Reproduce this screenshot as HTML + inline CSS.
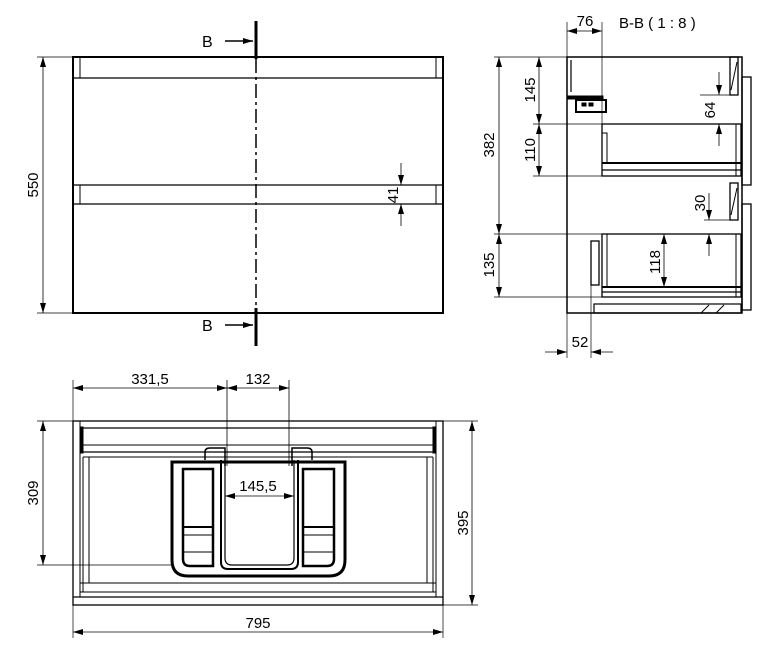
<!DOCTYPE html>
<html><head><meta charset="utf-8"><style>
html,body{margin:0;padding:0;background:#fff}
svg{display:block}
text{font-family:"Liberation Sans",sans-serif;font-size:15px;fill:#000}
</style></head><body>
<svg width="782" height="652" viewBox="0 0 782 652" xmlns="http://www.w3.org/2000/svg">
<defs>
<marker id="a" viewBox="0 0 10 6" refX="10" refY="3" markerWidth="10" markerHeight="6" orient="auto-start-reverse" markerUnits="userSpaceOnUse"><path d="M0,0 L10,3 L0,6 z" fill="#000"/></marker>
</defs>
<g stroke="#000" fill="none">
<rect x="73" y="57" width="370" height="256" stroke-width="2"/>
<line x1="73" y1="78" x2="443" y2="78" stroke-width="1.2"/>
<line x1="80" y1="57" x2="80" y2="78"/><line x1="436" y1="57" x2="436" y2="78"/>
<line x1="73" y1="185" x2="443" y2="185" stroke-width="1.2"/>
<line x1="73" y1="204" x2="443" y2="204" stroke-width="1.2"/>
<line x1="80" y1="185" x2="80" y2="204"/><line x1="436" y1="185" x2="436" y2="204"/>
<line x1="256" y1="21" x2="256" y2="59" stroke-width="3"/>
<line x1="256" y1="308" x2="256" y2="346" stroke-width="3"/>
<line x1="256" y1="59" x2="256" y2="308" stroke-width="1.5" stroke-dasharray="14,4,3,4"/>
<line x1="225" y1="41" x2="253" y2="41" stroke-width="1.5" marker-end="url(#a)"/>
<line x1="225" y1="325" x2="253" y2="325" stroke-width="1.5" marker-end="url(#a)"/>
<line x1="37" y1="57" x2="73" y2="57" stroke-width="0.7"/><line x1="37" y1="313" x2="73" y2="313" stroke-width="0.7"/>
<line x1="43" y1="57" x2="43" y2="313" stroke-width="0.8" marker-start="url(#a)" marker-end="url(#a)"/>
<line x1="401" y1="163" x2="401" y2="185" stroke-width="0.8" marker-end="url(#a)"/>
<line x1="401" y1="226" x2="401" y2="204" stroke-width="0.8" marker-end="url(#a)"/>

<rect x="567" y="57" width="175" height="256" stroke-width="1.5"/>
<rect x="742" y="77" width="9" height="108" stroke-width="1.3"/>
<rect x="742" y="204" width="9" height="106" stroke-width="1.3"/>
<rect x="730" y="57" width="8" height="38" stroke-width="1.3"/>
<line x1="731" y1="90" x2="737" y2="62"/>
<rect x="730" y="183" width="8" height="37" stroke-width="1.3"/>
<line x1="731" y1="215" x2="737" y2="188"/>
<rect x="602" y="124" width="139" height="52" stroke-width="1.3"/>
<line x1="602" y1="163" x2="741" y2="163" stroke-width="2"/>
<line x1="602" y1="170" x2="741" y2="170" stroke-width="1.2"/>
<rect x="602" y="133" width="5" height="30"/>
<line x1="736" y1="124" x2="736" y2="176"/>
<rect x="602" y="234" width="139" height="63" stroke-width="1.3"/>
<line x1="602" y1="287" x2="741" y2="287" stroke-width="2"/>
<line x1="602" y1="292" x2="741" y2="292" stroke-width="1.2"/>
<line x1="607" y1="234" x2="607" y2="287"/>
<line x1="736" y1="234" x2="736" y2="297"/>
<rect x="591" y="241" width="8" height="44" stroke-width="1.3"/>
<rect x="594" y="304" width="147" height="9" stroke-width="1.2"/>
<line x1="701" y1="313" x2="709" y2="305"/><line x1="716" y1="313" x2="724" y2="305"/>
<line x1="571" y1="60" x2="571" y2="92" stroke-width="1.2"/>
<rect x="568" y="96" width="35" height="3" fill="#000" stroke-width="1"/>
<rect x="576" y="100" width="30" height="12" stroke-width="2"/>
<rect x="582" y="103" width="4" height="3" fill="#000"/><rect x="589" y="103" width="4" height="3" fill="#000"/>
<line x1="567" y1="22" x2="567" y2="57" stroke-width="0.7"/><line x1="602" y1="22" x2="602" y2="124" stroke-width="0.7"/>
<line x1="567" y1="31" x2="602" y2="31" stroke-width="0.8" marker-start="url(#a)" marker-end="url(#a)"/>
<line x1="567" y1="313" x2="567" y2="358" stroke-width="0.7"/><line x1="591" y1="285" x2="591" y2="358" stroke-width="0.7"/>
<line x1="545" y1="352" x2="567" y2="352" stroke-width="0.8" marker-end="url(#a)"/>
<line x1="613" y1="352" x2="591" y2="352" stroke-width="0.8" marker-end="url(#a)"/>
<line x1="494" y1="57" x2="567" y2="57" stroke-width="0.7"/>
<line x1="533" y1="124" x2="602" y2="124" stroke-width="0.7"/>
<line x1="533" y1="176" x2="602" y2="176" stroke-width="0.7"/>
<line x1="494" y1="234" x2="602" y2="234" stroke-width="0.7"/>
<line x1="494" y1="297" x2="602" y2="297" stroke-width="0.7"/>
<line x1="499" y1="57" x2="499" y2="234" stroke-width="0.8" marker-start="url(#a)" marker-end="url(#a)"/>
<line x1="499" y1="234" x2="499" y2="297" stroke-width="0.8" marker-start="url(#a)" marker-end="url(#a)"/>
<line x1="539" y1="57" x2="539" y2="124" stroke-width="0.8" marker-start="url(#a)" marker-end="url(#a)"/>
<line x1="539" y1="124" x2="539" y2="176" stroke-width="0.8" marker-start="url(#a)" marker-end="url(#a)"/>
<line x1="700" y1="95" x2="730" y2="95" stroke-width="0.7"/>
<line x1="719" y1="72" x2="719" y2="95" stroke-width="0.8" marker-end="url(#a)"/>
<line x1="719" y1="146" x2="719" y2="124" stroke-width="0.8" marker-end="url(#a)"/>
<line x1="704" y1="220" x2="730" y2="220" stroke-width="0.7"/>
<line x1="709" y1="193" x2="709" y2="220" stroke-width="0.8" marker-end="url(#a)"/>
<line x1="709" y1="256" x2="709" y2="234" stroke-width="0.8" marker-end="url(#a)"/>
<line x1="664" y1="234" x2="664" y2="287" stroke-width="0.8" marker-start="url(#a)" marker-end="url(#a)"/>

<rect x="73" y="421" width="370" height="184" stroke-width="1.3"/>
<line x1="73" y1="597" x2="443" y2="597" stroke-width="1.2"/>
<line x1="80" y1="428" x2="436" y2="428" stroke-width="1.2"/>
<line x1="80" y1="445" x2="436" y2="445"/>
<line x1="80" y1="452" x2="436" y2="452" stroke-width="1.2"/>
<line x1="83" y1="457" x2="433" y2="457"/>
<line x1="80" y1="583" x2="436" y2="583"/>
<line x1="80" y1="592" x2="436" y2="592"/>
<line x1="80" y1="421" x2="80" y2="597"/><line x1="436" y1="421" x2="436" y2="597"/>
<line x1="83" y1="457" x2="83" y2="592"/><line x1="433" y1="457" x2="433" y2="592"/>
<line x1="89" y1="457" x2="89" y2="583"/><line x1="427" y1="457" x2="427" y2="583"/>
<rect x="80" y="427" width="3" height="26" fill="#000"/><rect x="433" y="427" width="3" height="26" fill="#000"/>
<path d="M172,462 H345 V560 Q345,576 329,576 H188 Q172,576 172,560 Z" stroke-width="3"/>
<path d="M183,469 H213 V566 H190 Q183,566 183,559 Z" stroke-width="2.5"/>
<path d="M303,469 H334 V559 Q334,566 327,566 H303 Z" stroke-width="2.5"/>
<path d="M221,460 V562 Q221,569 228,569 H291 Q298,569 298,562 V460" stroke-width="2"/>
<path d="M225,460 V558 Q225,565 232,565 H287 Q294,565 294,558 V460" stroke-width="1.2"/>
<line x1="183" y1="527" x2="213" y2="527" stroke-width="2"/><line x1="183" y1="535" x2="213" y2="535"/>
<line x1="183" y1="552" x2="213" y2="552"/>
<line x1="303" y1="527" x2="334" y2="527" stroke-width="2"/><line x1="303" y1="535" x2="334" y2="535"/>
<line x1="303" y1="552" x2="334" y2="552"/>
<path d="M205,460 V452 Q205,448 210,448 H225 V466" stroke-width="1.5"/>
<path d="M312,460 V452 Q312,448 307,448 H292 V466" stroke-width="1.5"/>
<line x1="73" y1="380" x2="73" y2="421" stroke-width="0.7"/>
<line x1="227" y1="380" x2="227" y2="466" stroke-width="0.8"/>
<line x1="289" y1="380" x2="289" y2="466" stroke-width="0.8"/>
<line x1="73" y1="388" x2="227" y2="388" stroke-width="0.8" marker-start="url(#a)" marker-end="url(#a)"/>
<line x1="227" y1="388" x2="289" y2="388" stroke-width="0.8" marker-start="url(#a)" marker-end="url(#a)"/>
<line x1="225" y1="496" x2="294" y2="496" stroke-width="0.8" marker-start="url(#a)" marker-end="url(#a)"/>
<line x1="37" y1="421" x2="73" y2="421" stroke-width="0.7"/>
<line x1="37" y1="565" x2="172" y2="565" stroke-width="0.7"/>
<line x1="43" y1="421" x2="43" y2="565" stroke-width="0.8" marker-start="url(#a)" marker-end="url(#a)"/>
<line x1="443" y1="421" x2="478" y2="421" stroke-width="0.7"/>
<line x1="443" y1="605" x2="478" y2="605" stroke-width="0.7"/>
<line x1="472" y1="421" x2="472" y2="605" stroke-width="0.8" marker-start="url(#a)" marker-end="url(#a)"/>
<line x1="73" y1="605" x2="73" y2="638" stroke-width="0.7"/><line x1="443" y1="605" x2="443" y2="638" stroke-width="0.7"/>
<line x1="73" y1="632" x2="443" y2="632" stroke-width="0.8" marker-start="url(#a)" marker-end="url(#a)"/>
</g>
<text x="202" y="47" style="font-size:16px">B</text>
<text x="202" y="331" style="font-size:16px">B</text>
<text transform="translate(38,185) rotate(-90)" text-anchor="middle">550</text>
<text transform="translate(398,195) rotate(-90)" text-anchor="middle">41</text>
<text x="585" y="26" text-anchor="middle">76</text>
<text x="619" y="28">B-B ( 1 : 8 )</text>
<text x="580" y="347" text-anchor="middle">52</text>
<text transform="translate(494,145) rotate(-90)" text-anchor="middle">382</text>
<text transform="translate(494,265) rotate(-90)" text-anchor="middle">135</text>
<text transform="translate(535,90) rotate(-90)" text-anchor="middle">145</text>
<text transform="translate(535,150) rotate(-90)" text-anchor="middle">110</text>
<text transform="translate(715,110) rotate(-90)" text-anchor="middle">64</text>
<text transform="translate(705,203) rotate(-90)" text-anchor="middle">30</text>
<text transform="translate(660,262) rotate(-90)" text-anchor="middle">118</text>
<text x="150" y="384" text-anchor="middle">331,5</text>
<text x="258" y="384" text-anchor="middle">132</text>
<text x="258" y="491" text-anchor="middle">145,5</text>
<text transform="translate(38,493) rotate(-90)" text-anchor="middle">309</text>
<text transform="translate(468,523) rotate(-90)" text-anchor="middle">395</text>
<text x="258" y="628" text-anchor="middle">795</text>
</svg>
</body></html>
